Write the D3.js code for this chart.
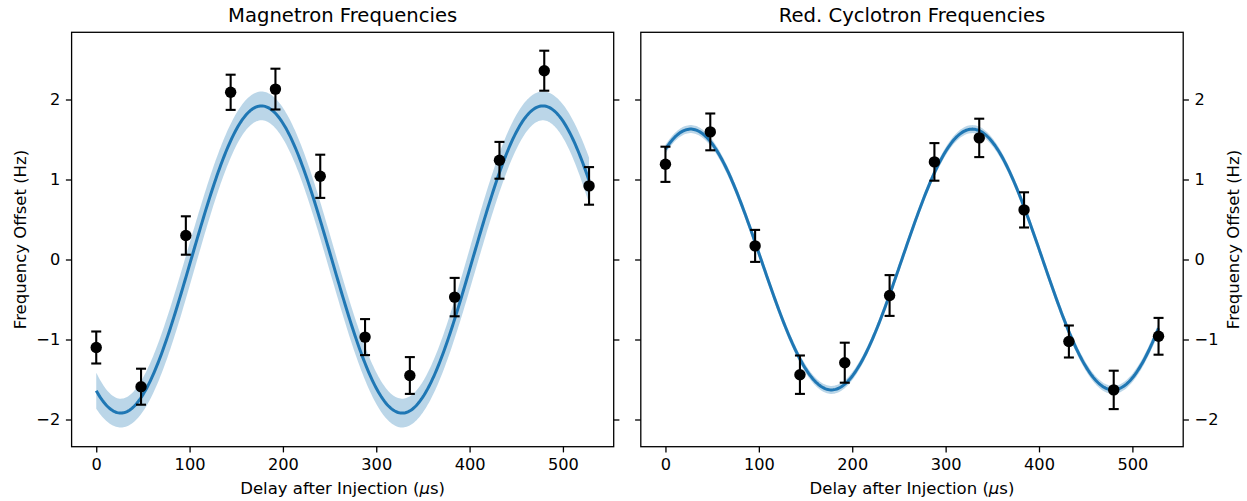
<!DOCTYPE html>
<html>
<head>
<meta charset="utf-8">
<script src="https://cdn.jsdelivr.net/npm/d3@7"></script>
<style>
  html, body { margin: 0; padding: 0; background: #fff; }
  svg { display: block; font-family: "DejaVu Sans", sans-serif; }
</style>
</head>
<body>
<svg id="chart" width="1247" height="501"></svg>
<script>
// Measurement delays (µs) after injection
const delays = [0, 48, 96, 144, 192, 240, 288, 336, 384, 432, 480, 528];

// Magnetron frequency offsets (Hz) and 1σ errors
const magnetronOffsets = [-1.10, -1.59, 0.30, 2.09, 2.13, 1.04, -0.97, -1.45, -0.47, 1.24, 2.36, 0.92];
const magnetronErrors  = [0.20, 0.225, 0.24, 0.22, 0.255, 0.27, 0.225, 0.23, 0.24, 0.23, 0.25, 0.235];

// Reduced cyclotron frequency offsets (Hz) and 1σ errors
const cyclotronOffsets = [1.19, 1.595, 0.17, -1.44, -1.29, -0.45, 1.22, 1.52, 0.62, -1.025, -1.63, -0.96];
const cyclotronErrors  = [0.22, 0.23, 0.20, 0.24, 0.25, 0.255, 0.235, 0.24, 0.22, 0.20, 0.24, 0.23];

// Sine-fit results per panel: [magnetron, cyclotron]
const fitAmplitude  = [1.92, 1.63];     // Hz
const fitPeriod     = [301.5, 301.5];   // µs
const fitPeakTime   = [177, 27];        // µs, time of a maximum
const sigmaAmp      = [0.18, 0.05];     // Hz
const sigmaPhase    = [0.12, 0.03];     // rad at the centre of the data
const sigmaOmega    = [0.00043, 0.0001];// rad/µs

const panelTitles = ["Magnetron Frequencies", "Red. Cyclotron Frequencies"];
const xTicks = [0, 100, 200, 300, 400, 500];
const yTicks = [-2, -1, 0, 1, 2];
const yDomain = [-2.34, 2.84];

const BLUE = "#1f77b4";
const svg = d3.select("#chart");

const plotTop = 32.3, plotBottom = 446.7;
const panels = [
  { left: 71.6, right: 613.7, values: magnetronOffsets, errors: magnetronErrors, labelSide: "left" },
  { left: 640.8, right: 1183.2, values: cyclotronOffsets, errors: cyclotronErrors, labelSide: "right" }
];

const xExtent = d3.extent(delays);
const xPad = 0.05 * (xExtent[1] - xExtent[0]);
const fmt = d3.format("");

panels.forEach((p, i) => {
  const x = d3.scaleLinear().domain([xExtent[0] - xPad, xExtent[1] + xPad]).range([p.left, p.right]);
  const y = d3.scaleLinear().domain(yDomain).range([plotBottom, plotTop]);
  const g = svg.append("g");

  // fitted model and its 1σ band
  const A = fitAmplitude[i], T = fitPeriod[i], t0 = fitPeakTime[i];
  const tc = (xExtent[0] + xExtent[1]) / 2;
  const ts = d3.range(0, 401).map(k => xExtent[0] + (xExtent[1] - xExtent[0]) * k / 400);
  const fit = ts.map(t => {
    const th = 2 * Math.PI * (t - t0) / T;
    const v = A * Math.cos(th);
    const sTh = Math.hypot(sigmaPhase[i], sigmaOmega[i] * (t - tc));
    const s = Math.hypot(sigmaAmp[i] * Math.cos(th), A * Math.sin(th) * sTh);
    return { t, v, lo: v - s, hi: v + s };
  });

  g.append("path")
    .datum(fit)
    .attr("fill", BLUE)
    .attr("fill-opacity", 0.3)
    .attr("d", d3.area().x(d => x(d.t)).y0(d => y(d.lo)).y1(d => y(d.hi)));

  g.append("path")
    .datum(fit)
    .attr("fill", "none")
    .attr("stroke", BLUE)
    .attr("stroke-width", 3)
    .attr("d", d3.line().x(d => x(d.t)).y(d => y(d.v)));

  // error bars
  const pts = delays.map((t, k) => ({ t, v: p.values[k], e: p.errors[k] }));
  const eb = g.append("g").attr("stroke", "#000").attr("stroke-width", 2.1);
  eb.selectAll("line.stem").data(pts).join("line").attr("class", "stem")
    .attr("x1", d => x(d.t)).attr("x2", d => x(d.t))
    .attr("y1", d => y(d.v - d.e)).attr("y2", d => y(d.v + d.e));
  eb.selectAll("line.capHi").data(pts).join("line").attr("class", "capHi")
    .attr("x1", d => x(d.t) - 5).attr("x2", d => x(d.t) + 5)
    .attr("y1", d => y(d.v + d.e)).attr("y2", d => y(d.v + d.e));
  eb.selectAll("line.capLo").data(pts).join("line").attr("class", "capLo")
    .attr("x1", d => x(d.t) - 5).attr("x2", d => x(d.t) + 5)
    .attr("y1", d => y(d.v - d.e)).attr("y2", d => y(d.v - d.e));

  g.append("g").selectAll("circle").data(pts).join("circle")
    .attr("cx", d => x(d.t)).attr("cy", d => y(d.v))
    .attr("r", 5.7).attr("fill", "#000");

  // axes
  const styleAxis = sel => {
    sel.select(".domain").remove();
    sel.selectAll(".tick line").attr("stroke", "#000").attr("stroke-width", 1.3);
    sel.selectAll(".tick text").attr("fill", "#000").attr("font-size", 16.2)
      .attr("font-family", "DejaVu Sans, sans-serif");
  };
  g.append("g").attr("transform", `translate(0,${plotBottom})`)
    .call(d3.axisBottom(x).tickValues(xTicks).tickFormat(fmt).tickSize(5.7).tickPadding(5.7))
    .call(styleAxis);
  g.append("g").attr("transform", `translate(${p.left},0)`)
    .call(d3.axisLeft(y).tickValues(yTicks).tickFormat(p.labelSide === "left" ? d3.format("") : () => "")
      .tickSize(5.7).tickPadding(5.7))
    .call(styleAxis);
  g.append("g").attr("transform", `translate(${p.right},0)`)
    .call(d3.axisRight(y).tickValues(yTicks).tickFormat(p.labelSide === "right" ? d3.format("") : () => "")
      .tickSize(5.7).tickPadding(5.7))
    .call(styleAxis);

  // frame
  g.append("rect")
    .attr("x", p.left).attr("y", plotTop)
    .attr("width", p.right - p.left).attr("height", plotBottom - plotTop)
    .attr("fill", "none").attr("stroke", "#000").attr("stroke-width", 1.3);

  // title
  const cx = (p.left + p.right) / 2;
  g.append("text").attr("x", cx).attr("y", 22.3)
    .attr("text-anchor", "middle").attr("font-size", 19.6).attr("fill", "#000")
    .text(panelTitles[i]);

  // x label
  const xl = g.append("text").attr("x", cx).attr("y", 493.5)
    .attr("text-anchor", "middle").attr("font-size", 16.5).attr("fill", "#000");
  xl.append("tspan").text("Delay after Injection (");
  xl.append("tspan").attr("font-style", "italic").text("\u03bc");
  xl.append("tspan").text("s)");

  // y label
  const lx = p.labelSide === "left" ? 25.5 : 1238.5;
  g.append("text")
    .attr("transform", `translate(${lx},${(plotTop + plotBottom) / 2}) rotate(-90)`)
    .attr("text-anchor", "middle").attr("font-size", 16.5).attr("fill", "#000")
    .text("Frequency Offset (Hz)");
});
</script>
</body>
</html>
